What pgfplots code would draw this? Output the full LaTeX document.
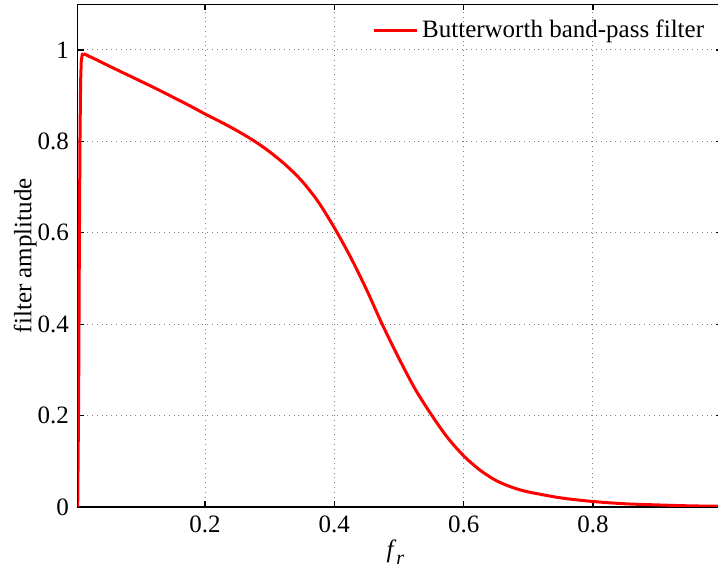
\documentclass[border=0pt]{standalone}
\usepackage{fontspec}
\setmainfont{Liberation Serif}
\usepackage{pgfplots}
\pgfplotsset{compat=1.18}
\begin{document}
\fontsize{12.5}{15}\selectfont
\begin{tikzpicture}
\begin{axis}[
  name=ax,
  scale only axis,
  width=322.25pt, height=251.35pt,
  xmin=0.003, xmax=1, ymin=0, ymax=1.1,
  xtick={0.2,0.4,0.6,0.8},
  xticklabels={0.2,0.4,0.6,0.8},
  ytick={0,0.2,0.4,0.6,0.8,1},
  yticklabels={0,0.2,0.4,0.6,0.8,1},
  tick align=inside,
  major tick length=3pt,
  tick style={black, line width=0.6pt},
  axis line style={black, line width=0.6pt},
  grid=major,
  major grid style={dotted, gray, line width=0.5pt},
  ticklabel style={font=\rmfamily\fontsize{12.5}{15}\selectfont},
  xlabel={\textit{f}\raisebox{-0.6ex}{\fontsize{10}{12}\selectfont\textit{r}}},
  ylabel={filter amplitude},
  xlabel style={at={(rel axis cs:0.493,0)}, anchor=north, yshift=-12pt},
  ylabel style={yshift=-8pt},
  legend style={at={(rel axis cs:0.447,0.985)}, anchor=north west, draw=none, fill=none, font=\rmfamily\fontsize{12.5}{15}\selectfont},
  legend image code/.code={\draw[#1] (0pt,0pt) -- (21.5pt,0pt);},
  clip=true,
]
\addplot[red, line width=1.5pt] coordinates {
(0.003,0) (0.0045,0.25) (0.0055,0.55) (0.0065,0.8) (0.0075,0.93) (0.0085,0.975)
(0.0100,0.99) (0.0120,0.992)
};
\addlegendentry{Butterworth band-pass filter}
\addplot[red, line width=1.5pt, smooth, tension=0.5, forget plot] coordinates {
(0.0120,0.992) (0.03,0.980) (0.05,0.966) (0.075,0.949) (0.10,0.932)
(0.125,0.915) (0.15,0.897) (0.175,0.879) (0.20,0.860) (0.225,0.842) (0.25,0.823)
(0.277,0.800) (0.3,0.777) (0.325,0.748) (0.35,0.713) (0.375,0.668) (0.4,0.611)
(0.425,0.547) (0.45,0.475) (0.474,0.4) (0.5,0.325) (0.525,0.258) (0.551,0.2)
(0.575,0.152) (0.6,0.112) (0.625,0.081) (0.65,0.058) (0.675,0.043) (0.7,0.033)
(0.75,0.020) (0.8,0.012) (0.85,0.007) (0.9,0.0045) (0.95,0.0025) (1.0,0.0015)
};
\end{axis}
\pgfresetboundingbox
\useasboundingbox ([xshift=-38.85pt, yshift=-34.5pt]ax.south west) rectangle ++(359pt,288pt);
\end{tikzpicture}
\end{document}
